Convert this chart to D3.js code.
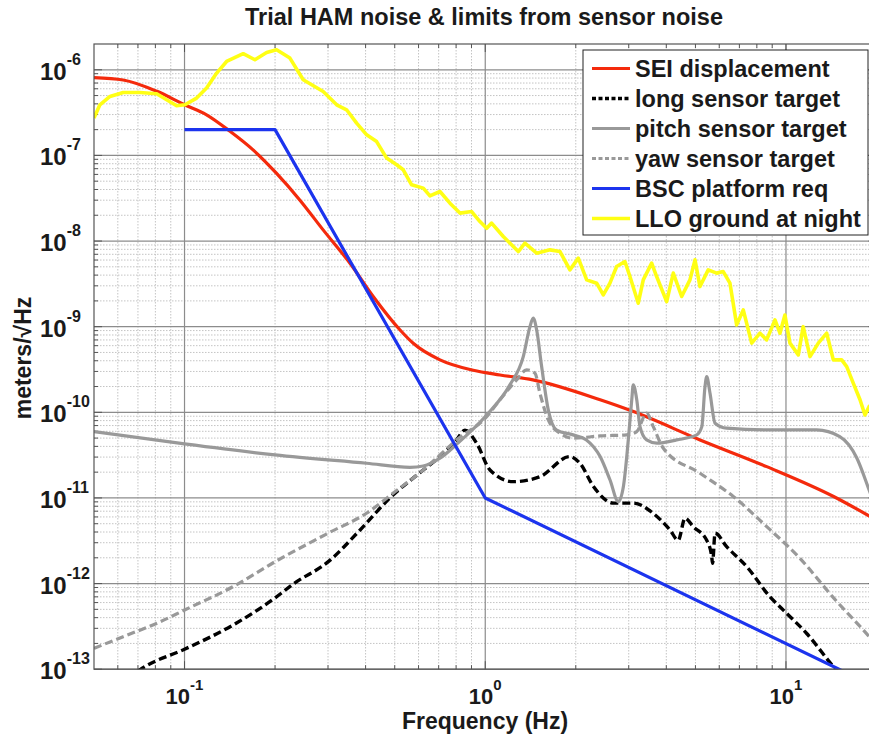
<!DOCTYPE html>
<html>
<head>
<meta charset="utf-8">
<script src="https://cdn.jsdelivr.net/npm/d3@7"></script>
<style>
  body { margin: 0; background: #fff; }
  text { font-family: "Liberation Sans", Arial, sans-serif; font-weight: bold; fill: #1a1a1a; }
</style>
</head>
<body>
<svg id="chart" width="869" height="736"></svg>
<script>
// [frequency (Hz), amplitude (m/rtHz)]
var seiDisplacement = [
  [0.05, 8.1e-7], [0.0625, 7.6e-7], [0.081, 5.6e-7], [0.100, 3.9e-7], [0.118, 3.0e-7],
  [0.142, 1.9e-7], [0.169, 1.16e-7], [0.202, 6.2e-8], [0.242, 3.0e-8], [0.289, 1.35e-8],
  [0.355, 5.5e-9], [0.424, 2.25e-9], [0.520, 9.2e-10], [0.576, 6.4e-10], [0.707, 4.1e-10],
  [0.912, 3.1e-10], [1.12, 2.73e-10], [1.44, 2.39e-10], [2.41, 1.40e-10], [3.11, 1.02e-10],
  [5.18, 4.76e-11], [8.63, 2.32e-11], [14.4, 1.04e-11], [20, 5.5e-12]
]

var longSensor = [
  [0.070, 9.5e-14], [0.0738, 1.07e-13], [0.100, 1.71e-13], [0.145, 3.28e-13], [0.200, 6.8e-13],
  [0.231, 1.0e-12], [0.300, 1.79e-12], [0.383, 4.2e-12], [0.482, 1.0e-11], [0.622, 2.12e-11],
  [0.707, 3.04e-11], [0.803, 4.76e-11], [0.856, 6.2e-11], [0.936, 4.36e-11], [1.037, 2.12e-11],
  [1.239, 1.55e-11], [1.52, 1.77e-11], [1.91, 3.04e-11], [2.065, 2.54e-11], [2.29, 1.36e-11],
  [2.67, 8.7e-12], [3.11, 8.7e-12], [3.62, 6.6e-12], [4.12, 4.2e-12], [4.38, 3.2e-12],
  [4.62, 5.8e-12], [4.92, 4.6e-12], [5.45, 3.2e-12], [5.66, 2.1e-12], [5.70, 1.73e-12],
  [5.81, 3.87e-12], [6.35, 2.7e-12], [7.40, 1.58e-12], [8.85, 7.0e-13], [9.80, 4.9e-13],
  [11.7, 2.63e-13], [14.55, 1.02e-13], [15.5, 8e-14]
]

var pitchSensor = [
  [0.05, 5.95e-11], [0.100, 4.27e-11], [0.200, 3.18e-11], [0.403, 2.54e-11], [0.562, 2.28e-11],
  [0.622, 2.36e-11], [0.707, 2.91e-11], [0.811, 4.36e-11], [1.011, 9.3e-11], [1.208, 2.09e-10],
  [1.338, 4.47e-10], [1.408, 1.0e-9], [1.444, 1.26e-9], [1.482, 9.2e-10], [1.54, 3.42e-10],
  [1.62, 1.07e-10], [1.728, 6.2e-11], [1.96, 5.45e-11], [2.17, 4.76e-11], [2.41, 3.04e-11],
  [2.60, 1.62e-11], [2.77, 9.05e-12], [2.88, 1.36e-11], [2.99, 4.76e-11], [3.07, 1.40e-10],
  [3.106, 2.09e-10], [3.19, 1.40e-10], [3.27, 6.8e-11], [3.44, 4.76e-11], [3.72, 4.36e-11],
  [4.33, 4.76e-11], [5.05, 5.45e-11], [5.25, 6.8e-11], [5.38, 2.0e-10], [5.45, 2.61e-10],
  [5.59, 1.67e-10], [5.81, 7.46e-11], [6.35, 6.52e-11], [8.63, 6.23e-11], [12.65, 6.23e-11],
  [15.1, 5.2e-11], [17.2, 2.93e-11], [18.9, 1.24e-11], [20, 7.2e-12]
]

var yawSensor = [
  [0.05, 1.75e-13], [0.0625, 2.40e-13], [0.081, 3.44e-13], [0.100, 4.91e-13], [0.145, 9.2e-13],
  [0.200, 1.80e-12], [0.300, 3.87e-12], [0.403, 6.63e-12], [0.501, 1.18e-11], [0.622, 2.12e-11],
  [0.707, 3.18e-11], [0.803, 4.76e-11], [1.011, 8.9e-11], [1.119, 1.40e-10], [1.272, 2.39e-10],
  [1.373, 3.13e-10], [1.463, 2.86e-10], [1.52, 1.67e-10], [1.62, 8.15e-11], [1.772, 5.7e-11],
  [1.962, 4.98e-11], [2.41, 5.3e-11], [2.95, 5.45e-11], [3.19, 5.95e-11], [3.44, 9.76e-11],
  [3.62, 6.81e-11], [3.91, 3.81e-11], [5.18, 1.94e-11], [6.68, 1.04e-11], [8.63, 4.62e-12],
  [11.1, 1.99e-12], [14.4, 6.8e-13], [18.9, 2.40e-13], [20, 1.9e-13]
]

var bscPlatform = [
  [0.1, 2e-7], [0.2, 2e-7], [1, 1e-11], [15, 1e-13], [20, 6e-14]
]

var lloGround = [
  [0.05, 2.73e-7], [0.0523, 3.9e-7], [0.0565, 4.88e-7], [0.0625, 5.43e-7], [0.0711, 5.43e-7],
  [0.0808, 5.24e-7], [0.0872, 4.46e-7], [0.0941, 3.8e-7], [0.1003, 3.9e-7], [0.1097, 4.67e-7],
  [0.1184, 6.11e-7], [0.1279, 9.15e-7], [0.138, 1.25e-6], [0.1567, 1.54e-6], [0.1714, 1.31e-6],
  [0.1875, 1.59e-6], [0.2024, 1.71e-6], [0.2241, 1.37e-6], [0.2481, 7.64e-7], [0.2891, 5.58e-7],
  [0.3205, 3.9e-7], [0.3459, 3.41e-7], [0.3735, 2.38e-7], [0.4033, 1.74e-7], [0.4353, 1.45e-7],
  [0.47, 9.3e-8], [0.5074, 7.77e-8], [0.5337, 6.79e-8], [0.569, 4.53e-8], [0.6221, 4.15e-8],
  [0.6548, 3.37e-8], [0.707, 3.79e-8], [0.7631, 2.77e-8], [0.8238, 2.12e-8], [0.901, 2.21e-8],
  [0.96, 1.69e-8], [1.011, 1.41e-8], [1.05, 1.62e-8], [1.148, 1.13e-8], [1.288, 7.54e-9],
  [1.355, 9.45e-9], [1.482, 7.22e-9], [1.641, 7.89e-9], [1.772, 7.54e-9], [1.912, 4.61e-9],
  [2.039, 6.31e-9], [2.174, 3.52e-9], [2.347, 3.22e-9], [2.469, 2.35e-9], [2.598, 3.22e-9],
  [2.735, 5.04e-9], [2.914, 5.76e-9], [3.028, 3.85e-9], [3.227, 1.88e-9], [3.353, 3.52e-9],
  [3.576, 5.52e-9], [3.715, 3.85e-9], [4.011, 1.96e-9], [4.22, 4.22e-9], [4.499, 2.25e-9],
  [4.794, 3.52e-9], [4.983, 6.03e-9], [5.176, 2.94e-9], [5.514, 4.61e-9], [5.883, 4.22e-9],
  [6.186, 4.4e-9], [6.512, 3.22e-9], [6.855, 1.05e-9], [7.211, 1.57e-9], [7.69, 6.42e-10],
  [8.196, 8.39e-10], [8.626, 7.01e-10], [9.192, 1.2e-9], [9.55, 8.39e-10], [9.92, 1.37e-9],
  [10.31, 6.42e-10], [10.99, 4.68e-10], [11.41, 1.0e-9], [12.02, 4.47e-10], [12.81, 6.42e-10],
  [13.66, 8.39e-10], [14.37, 4.09e-10], [15.32, 4.09e-10], [15.92, 3.42e-10], [16.74, 2.19e-10],
  [17.63, 1.4e-10], [18.31, 9.3e-11], [18.9, 1.17e-10], [20, 1.0e-10]
]

var legendLabels = ["SEI displacement", "long sensor target", "pitch sensor target",
                    "yaw sensor target", "BSC platform req", "LLO ground at night"]
var xTickExps = [-1, 0, 1]
var yTickExps = [-13, -12, -11, -10, -9, -8, -7, -6]

// drawing order follows the legend
var series = [
  { data: seiDisplacement, color: "#f42a0c", width: 3.2, dash: null, smooth: true },
  { data: longSensor, color: "#000", width: 3.4, dash: "8,4", smooth: true },
  { data: pitchSensor, color: "#999", width: 3.2, dash: null, smooth: true },
  { data: yawSensor, color: "#999", width: 3.2, dash: "8,4", smooth: true },
  { data: bscPlatform, color: "#1c34ee", width: 3.2, dash: null, smooth: false },
  { data: lloGround, color: "#ffff14", width: 3.6, dash: null, smooth: false }
]

var plot = { left: 94, right: 876.5, top: 44, bottom: 669.2 }

var x = d3.scaleLog().domain([0.05, 20]).range([plot.left, plot.right])
var y = d3.scaleLog().domain([1e-13, 2e-6]).range([plot.bottom, plot.top])

var svg = d3.select("#chart")

svg.append("defs").append("clipPath")
    .attr("id", "plot-clip")
  .append("rect")
    .attr("x", plot.left)
    .attr("y", plot.top)
    .attr("width", plot.right - plot.left)
    .attr("height", plot.bottom - plot.top)

// grid values
var minorX = [], minorY = []
;[0.01, 0.1, 1, 10].forEach(function(dec){
  for (var m = 2; m <= 9; m++){
    var v = m * dec
    if (v > 0.0501 && v < 19.99) minorX.push(v)
  }
})
for (var e = -14; e <= -6; e++){
  for (var m = 2; m <= 9; m++){
    var v = m * Math.pow(10, e)
    if (v > 1.0001e-13 && v < 1.999e-6) minorY.push(v)
  }
}
var majorX = xTickExps.map(function(d){ return Math.pow(10, d) })
var majorY = yTickExps.map(function(d){ return Math.pow(10, d) })

var grid = svg.append("g").attr("class", "grid")

grid.selectAll(".minor-x")
    .data(minorX)
    .enter()
  .append("line")
    .attr("x1", function(d){ return x(d) })
    .attr("x2", function(d){ return x(d) })
    .attr("y1", plot.top)
    .attr("y2", plot.bottom)
    .attr("stroke", "#c4c4c4")
    .attr("stroke-width", 1)
    .attr("stroke-dasharray", "1.5,1.5")

grid.selectAll(".minor-y")
    .data(minorY)
    .enter()
  .append("line")
    .attr("x1", plot.left)
    .attr("x2", plot.right)
    .attr("y1", function(d){ return y(d) })
    .attr("y2", function(d){ return y(d) })
    .attr("stroke", "#c4c4c4")
    .attr("stroke-width", 1)
    .attr("stroke-dasharray", "1.5,1.5")

grid.selectAll(".major-x")
    .data(majorX)
    .enter()
  .append("line")
    .attr("x1", function(d){ return x(d) })
    .attr("x2", function(d){ return x(d) })
    .attr("y1", plot.top)
    .attr("y2", plot.bottom)
    .attr("stroke", "#8c8c8c")
    .attr("stroke-width", 1.2)

grid.selectAll(".major-y")
    .data(majorY)
    .enter()
  .append("line")
    .attr("x1", plot.left)
    .attr("x2", plot.right)
    .attr("y1", function(d){ return y(d) })
    .attr("y2", function(d){ return y(d) })
    .attr("stroke", "#8c8c8c")
    .attr("stroke-width", 1.2)

// tick marks on all four sides, pointing inwards
var ticks = svg.append("g").attr("stroke", "#555").attr("stroke-width", 1)
var xTicks = majorX.map(function(d){ return { v: d, len: 8 } })
  .concat(minorX.map(function(d){ return { v: d, len: 4 } }))
var yTicks = majorY.map(function(d){ return { v: d, len: 8 } })
  .concat(minorY.map(function(d){ return { v: d, len: 4 } }))

xTicks.forEach(function(t){
  ticks.append("line").attr("x1", x(t.v)).attr("x2", x(t.v))
    .attr("y1", plot.bottom).attr("y2", plot.bottom - t.len)
  ticks.append("line").attr("x1", x(t.v)).attr("x2", x(t.v))
    .attr("y1", plot.top).attr("y2", plot.top + t.len)
})
yTicks.forEach(function(t){
  ticks.append("line").attr("x1", plot.left).attr("x2", plot.left + t.len)
    .attr("y1", y(t.v)).attr("y2", y(t.v))
  ticks.append("line").attr("x1", plot.right).attr("x2", plot.right - t.len)
    .attr("y1", y(t.v)).attr("y2", y(t.v))
})

// curves
var curves = svg.append("g").attr("clip-path", "url(#plot-clip)")
series.forEach(function(s){
  var line = d3.line()
    .x(function(d){ return x(d[0]) })
    .y(function(d){ return y(d[1]) })
    .curve(s.smooth ? d3.curveMonotoneX : d3.curveLinear)
  curves.append("path")
    .datum(s.data)
    .attr("d", line)
    .attr("fill", "none")
    .attr("stroke", s.color)
    .attr("stroke-width", s.width)
    .attr("stroke-linejoin", "round")
    .attr("stroke-dasharray", s.dash)
})

// axes box
svg.append("rect")
    .attr("x", plot.left)
    .attr("y", plot.top)
    .attr("width", plot.right - plot.left)
    .attr("height", plot.bottom - plot.top)
    .attr("fill", "none")
    .attr("stroke", "#555")
    .attr("stroke-width", 1.2)

// tick labels, 10 with a superscript exponent
var xLabels = svg.selectAll(".x-label")
    .data(xTickExps)
    .enter()
  .append("text")
    .attr("x", function(d){ return x(Math.pow(10, d)) })
    .attr("y", 704)
    .attr("text-anchor", "middle")
    .attr("font-size", 22)
xLabels.append("tspan").text("10")
xLabels.append("tspan")
    .attr("dy", -14)
    .attr("font-size", 15)
    .text(function(d){ return d })

var yLabels = svg.selectAll(".y-label")
    .data(yTickExps)
    .enter()
  .append("text")
    .attr("x", 40)
    .attr("y", function(d){ return y(Math.pow(10, d)) + 10 })
    .attr("font-size", 24)
yLabels.append("tspan").text("10")
yLabels.append("tspan")
    .attr("dy", -15)
    .attr("font-size", 16)
    .text(function(d){ return d })

svg.append("text")
    .attr("x", 484)
    .attr("y", 25)
    .attr("text-anchor", "middle")
    .attr("font-size", 23.5)
    .text("Trial HAM noise & limits from sensor noise")

svg.append("text")
    .attr("x", 485)
    .attr("y", 729)
    .attr("text-anchor", "middle")
    .attr("font-size", 23)
    .text("Frequency (Hz)")

svg.append("text")
    .attr("transform", "translate(31,358) rotate(-90)")
    .attr("text-anchor", "middle")
    .attr("font-size", 23)
    .text("meters/\u221AHz")

// legend
var legend = svg.append("g")
legend.append("rect")
    .attr("x", 583)
    .attr("y", 50)
    .attr("width", 285)
    .attr("height", 185)
    .attr("fill", "#fff")
    .attr("stroke", "#222")
    .attr("stroke-width", 1)

legendLabels.forEach(function(label, i){
  var cy = 68.5 + i * 30
  var s = series[i]
  legend.append("line")
      .attr("x1", 592)
      .attr("x2", 630)
      .attr("y1", cy)
      .attr("y2", cy)
      .attr("stroke", s.color)
      .attr("stroke-width", s.width)
      .attr("stroke-dasharray", s.dash ? "4,2.5" : null)
  legend.append("text")
      .attr("x", 635)
      .attr("y", cy + 8.5)
      .attr("font-size", 23.5)
      .text(label)
})
</script>
</body>
</html>
